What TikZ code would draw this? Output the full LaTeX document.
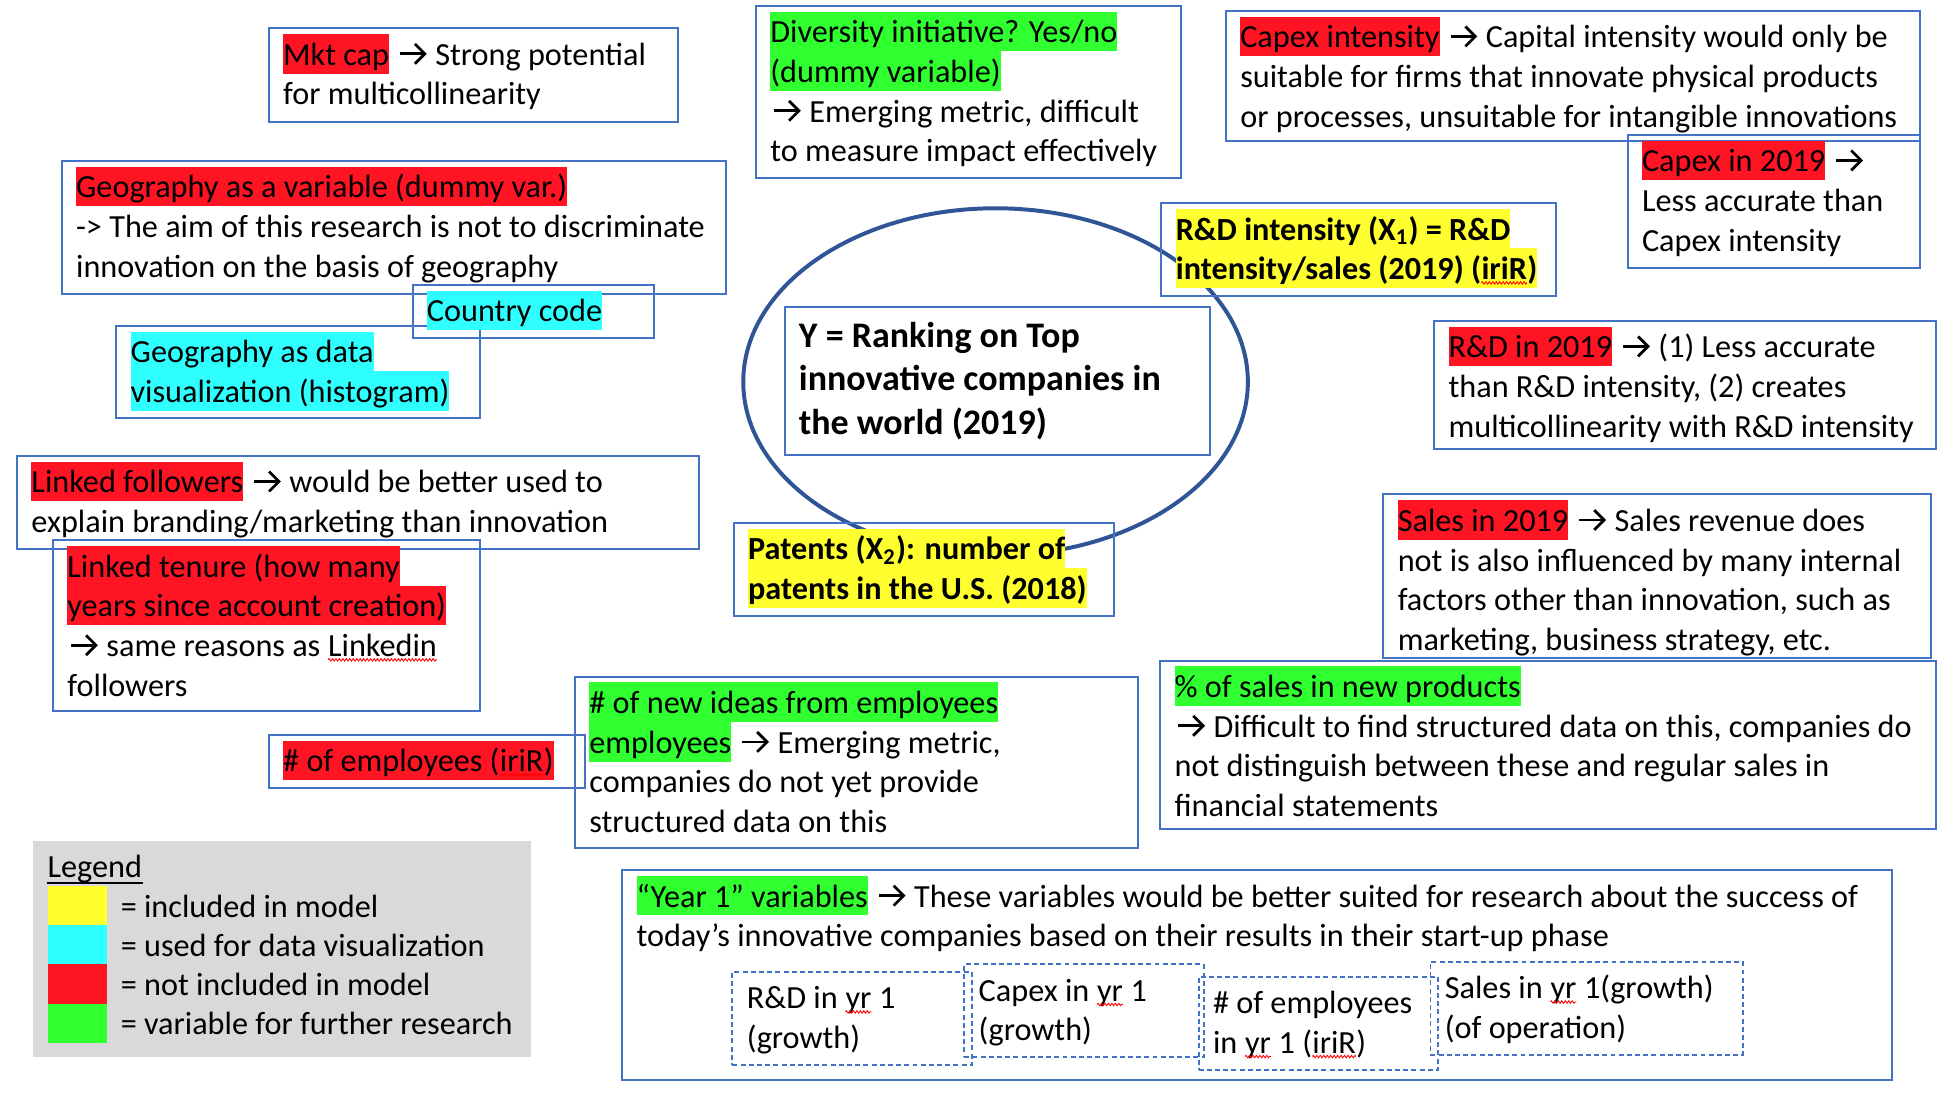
\documentclass[tikz,border=0pt]{standalone}
\usepackage{fontspec}
\setmainfont{Carlito}
\usetikzlibrary{shapes.geometric,decorations.pathmorphing}
\definecolor{bxblue}{HTML}{4472C4}
\definecolor{elblue}{HTML}{2F5597}
\definecolor{hlred}{HTML}{FF1424}
\definecolor{hlyel}{HTML}{FFFF30}
\definecolor{hlcyan}{HTML}{30FFFF}
\definecolor{hlgreen}{HTML}{30FF30}
\definecolor{lgray}{HTML}{D9D9D9}
\newcommand\hs{\rule[-3.4pt]{0pt}{16pt}}
\newcommand\hsl{\rule[-3.4pt]{0pt}{15.75pt}}
\newcommand\hsb{\rule[-3.9pt]{0pt}{17.5pt}}
\newcommand\hlt[2]{{\setlength{\fboxsep}{0pt}\colorbox{#1}{\hs#2}}}
\newcommand\ar{\tikz[baseline=0pt,x=1pt,y=1pt,line width=1.1pt]{\path (0,0) (12.8,0);
  \draw (1.5,4.6) -- (11.4,4.6);
  \draw[line join=miter] (7.5,0.6) -- (11.5,4.6) -- (7.5,8.6);}}
\newcommand\sq[1]{\tikz[baseline=(sqw.base),x=1pt,y=1pt]{\node[inner sep=0pt,outer sep=0pt,anchor=base](sqw){#1};
  \draw[red, line width=0.35pt, decorate, decoration={zigzag, amplitude=0.5pt, segment length=1.4pt}] ([yshift=-1.3pt]sqw.base west) -- ([yshift=-1.3pt]sqw.base east);}}
\pgfdeclarelayer{fg}
\pgfsetlayers{main,fg}
\tikzset{
  bxs/.style={draw=bxblue, line width=0.8pt, anchor=north west, inner sep=0pt},
  dbxs/.style={bxs, dash pattern=on 2pt off 1.3pt},
  txt/.style={anchor=north west, inner sep=0pt, align=left, font=\fontsize{13}{16}\selectfont},
  btxt/.style={txt, font=\fontsize{13}{16}\selectfont\bfseries},
  swatch/.style={anchor=north west, inner sep=0pt, minimum width=24pt, minimum height=15.75pt}
}
% #1 box style, #2 text style, #3 name, #4 x, #5 y, #6 w, #7 h, #8 text
\newcommand\mybox[8]{%
  \node[#1, minimum width=#6*0.5pt, minimum height=#7*0.5pt] (#3) at (#4,#5) {};
  \begin{pgfonlayer}{fg}
  \node[#2] (#3t) at (#4+12,#5+5) {#8};
  \end{pgfonlayer}}
\begin{document}
\begin{tikzpicture}[x=0.5pt,y=-0.5pt]
\useasboundingbox (0,0) rectangle (1568,882);
\node[draw=elblue, line width=1.6pt, ellipse, inner sep=0pt, minimum width=407*0.5pt, minimum height=280*0.5pt] (ell) at (803,308) {};

\mybox{bxs}{txt}{mkt}{216}{22}{330}{76}{\hs\hlt{hlred}{Mkt cap} \ar{} Strong potential\\\hs for multicollinearity}
\mybox{bxs}{txt}{div}{609}{4}{343}{139}{\hs\hlt{hlgreen}{Diversity initiative? Yes/no}\\\hs\hlt{hlgreen}{(dummy variable)}\\\hs\ar{} Emerging metric, difficult\\\hs to measure impact effectively}
\mybox{bxs}{txt}{capint}{988}{8}{560}{105}{\hs\hlt{hlred}{Capex intensity} \ar{} Capital intensity would only be\\\hs suitable for firms that innovate physical products\\\hs or processes, unsuitable for intangible innovations}
\mybox{bxs}{txt}{cap19}{1312}{108}{236}{107}{\hs\hlt{hlred}{Capex in 2019} \ar\\\hs Less accurate than\\\hs Capex intensity}
\mybox{bxs}{txt}{geovar}{49}{129}{536}{107}{\hs\hlt{hlred}{Geography as a variable (dummy var.)}\\\hs -> The aim of this research is not to discriminate\\\hs innovation on the basis of geography}
\mybox{bxs}{txt}{country}{332}{229}{195}{43}{\hs\hlt{hlcyan}{Country code}}
\mybox{bxs}{txt}{geodata}{93}{262}{293}{74}{\hs\hlt{hlcyan}{Geography as data}\\\hs\hlt{hlcyan}{visualization (histogram)}}

\node[bxs, minimum width=343*0.5pt, minimum height=119*0.5pt] (ybox) at (632,247) {};
\begin{pgfonlayer}{fg}
\node[txt, font=\fontsize{14.5}{17.5}\selectfont\bfseries] (yboxt) at (644,252.5) {\hsb Y = Ranking on Top\\\hsb innovative companies in\\\hsb the world (2019)};
\end{pgfonlayer}

\mybox{bxs}{btxt}{rdint}{936}{163}{318}{75}{\hs\hlt{hlyel}{R\&D intensity (X\textsubscript{1}) = R\&D}\\\hs\hlt{hlyel}{intensity/sales (2019) (\sq{iriR})}}
\mybox{bxs}{txt}{rd19}{1156}{258}{405}{103}{\hs\hlt{hlred}{R\&D in 2019} \ar{} (1) Less accurate\\\hs than R\&D intensity, (2) creates\\\hs multicollinearity with R\&D intensity}
\mybox{bxs}{txt}{linkfol}{13}{367}{550}{75}{\hs\hlt{hlred}{Linked followers} \ar{} would be better used to\\\hs explain branding/marketing than innovation}
\mybox{bxs}{btxt}{patents}{591}{421}{307}{75}{\hs\hlt{hlyel}{Patents (X\textsubscript{2}): number of}\\\hs\hlt{hlyel}{patents in the U.S. (2018)}}
\mybox{bxs}{txt}{sales19}{1115}{398}{442}{132}{\hs\hlt{hlred}{Sales in 2019} \ar{} Sales revenue does\\\hs not is also influenced by many internal\\\hs factors other than innovation, such as\\\hs marketing, business strategy, etc.}
\mybox{bxs}{txt}{tenure}{42}{435}{344}{138}{\hs\hlt{hlred}{Linked tenure (how many}\\\hs\hlt{hlred}{years since account creation)}\\\hs\ar{} same reasons as \sq{Linkedin}\\\hs followers}
\mybox{bxs}{txt}{pctsales}{935}{532}{626}{136}{\hs\hlt{hlgreen}{\% of sales in new products}\\\hs\ar{} Difficult to find structured data on this, companies do\\\hs not distinguish between these and regular sales in\\\hs financial statements}
\mybox{bxs}{txt}{emp}{216}{592}{255}{43}{\hs\hlt{hlred}{\# of employees (\sq{iriR})}}
\mybox{bxs}{txt}{ideas}{463}{545}{454}{138}{\hs\hlt{hlgreen}{\# of new ideas from employees}\\\hs\hlt{hlgreen}{employees} \ar{} Emerging metric,\\\hs companies do not yet provide\\\hs structured data on this}
\mybox{bxs}{txt}{year}{501}{701}{1024}{169}{\hs\hlt{hlgreen}{“Year 1” variables} \ar{} These variables would be better suited for research about the success of\\\hs today’s innovative companies based on their results in their start-up phase}
\mybox{dbxs}{txt}{dy1}{590}{783}{193}{75}{\hs R\&D in \sq{yr} 1\\\hs (growth)}
\mybox{dbxs}{txt}{dy2}{777}{777}{193}{75}{\hs Capex in \sq{yr} 1\\\hs (growth)}
\mybox{dbxs}{txt}{dy3}{966}{787}{193}{75}{\hs\# of employees\\\hs in \sq{yr} 1 (\sq{iriR})}
\mybox{dbxs}{txt}{dy4}{1153}{775}{252}{75}{\hs Sales in \sq{yr} 1(growth)\\\hs (of operation)}

% legend
\node[fill=lgray, anchor=north west, inner sep=0pt, minimum width=402*0.5pt, minimum height=174*0.5pt] (leg) at (26,678) {};
\node[swatch, fill=hlyel] (swy) at (38,714.5) {};
\node[swatch, fill=hlcyan] (swc) at (38,746) {};
\node[swatch, fill=hlred] (swr) at (38,777.5) {};
\node[swatch, fill=hlgreen] (swg) at (38,809) {};
\node[txt, anchor=base west] (legtitle) at (38,707.6) {Legend};
\draw[line width=1pt] ([yshift=-2.4pt]legtitle.base west) -- ([yshift=-2.4pt]legtitle.base east);
\node[txt, font=\fontsize{13}{15.75}\selectfont] (legtext) at (97,715) {\hsl= included in model\\\hsl= used for data visualization\\\hsl= not included in model\\\hsl= variable for further research};
\end{tikzpicture}
\end{document}
